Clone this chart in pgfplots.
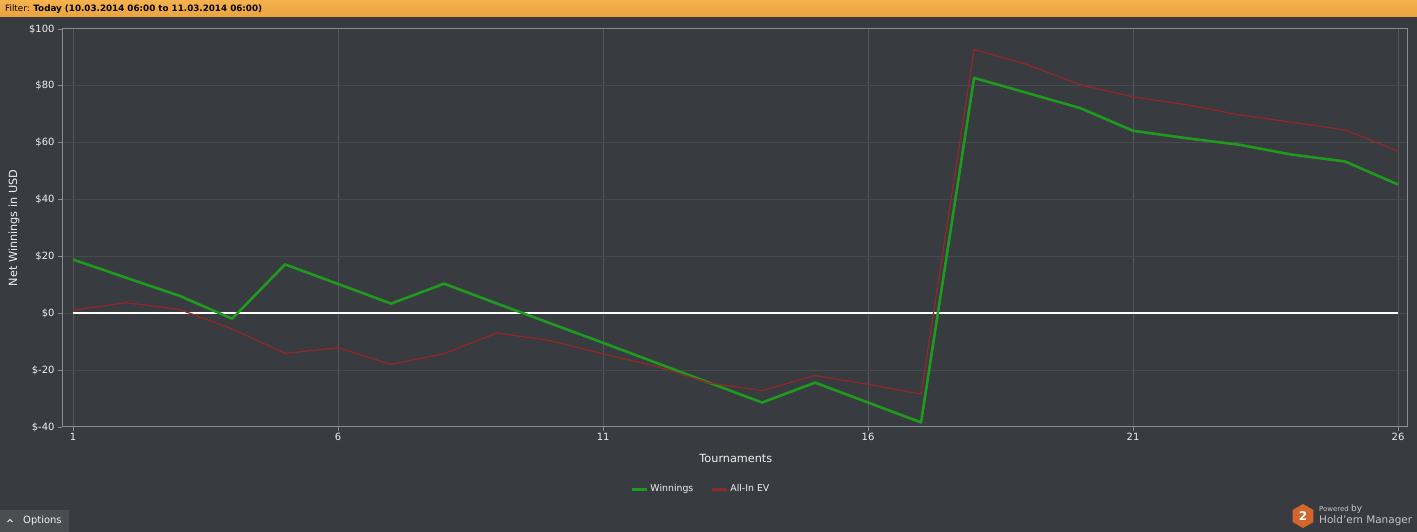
\documentclass[border=0pt]{standalone}
\usepackage{pgfplots}
\pgfplotsset{compat=1.18}
\usepackage{fontspec}
\setmainfont{DejaVu Sans}
\definecolor{bg}{HTML}{383B3F}
\definecolor{hdrtop}{HTML}{F6B24E}
\definecolor{hdrbot}{HTML}{E9A23F}
\definecolor{axgrey}{HTML}{8A8D90}
\definecolor{hgrid}{HTML}{474B4F}
\definecolor{vgrid}{HTML}{53575B}
\definecolor{txt}{HTML}{F0F0F0}
\definecolor{win}{HTML}{1F9A1F}
\definecolor{ev}{HTML}{8E2A2C}
\definecolor{optbg}{HTML}{4B4E51}
\definecolor{logo}{HTML}{D4652C}
\definecolor{logotxt}{HTML}{C4C6C8}
\pgfplotstableread{
x y
1 18.9
2 12.5
3 6.2
4 -1.9
5 17.2
6 10.3
7 3.4
8 10.4
9 3.4
10 -3.5
11 -10.4
12 -17.4
13 -24.4
14 -31.4
15 -24.4
16 -31.4
17 -38.4
18 82.8
19 77.5
20 72.2
21 64.2
22 61.6
23 59.3
24 55.8
25 53.4
26 45.3
}\winnings
\pgfplotstableread{
x y
1 1.1
2 3.7
3 1.4
4 -5.5
5 -14.1
6 -12.1
7 -18.0
8 -14.2
9 -6.9
10 -9.6
11 -14.3
12 -18.6
13 -24.5
14 -27.2
15 -21.9
16 -25.0
17 -28.4
18 92.8
19 87.5
20 80.4
21 76.1
22 73.4
23 69.8
24 67.2
25 64.5
26 57.0
}\allinev
\begin{document}
\begin{tikzpicture}[x=1bp,y=1bp]
\fill[bg] (0,0) rectangle (1417,532);
\shade[top color=hdrtop, bottom color=hdrbot] (0,515) rectangle (1417,532);
\node[anchor=base west, inner sep=0, text=black, font=\fontsize{8.8}{11}\selectfont] at (5,520) {Filter: \textbf{Today (10.03.2014 06:00 to 11.03.2014 06:00)}};
% options button
\fill[optbg] (0,0) rectangle (69,22);
\draw[txt, line width=1bp] (7.5,10) -- (10,12.5) -- (12.5,10);
\node[anchor=west, inner sep=0, text=txt, font=\fontsize{10}{12}\selectfont] at (23,11) {Options};
% logo
\fill[logo] ([shift={(30:12)}]1303,16) -- ([shift={(90:12)}]1303,16) -- ([shift={(150:12)}]1303,16) -- ([shift={(210:12)}]1303,16) -- ([shift={(270:12)}]1303,16) -- ([shift={(330:12)}]1303,16) -- cycle;
\node[text=white, font=\fontsize{12}{12}\selectfont\bfseries, inner sep=0] at (1303,16) {2};
\node[anchor=base west, inner sep=0, text=logotxt, font=\fontsize{7}{8}\selectfont] at (1319,20) {Powered \fontsize{9}{9}\selectfont by};
\node[anchor=base west, inner sep=0, text=logotxt, font=\fontsize{10.5}{12}\selectfont] at (1319,8) {Hold'em Manager};
\begin{axis}[
  at={(62bp,105bp)}, anchor=south west, scale only axis,
  width=1345bp, height=398bp,
  xmin=0.79, xmax=26.17, ymin=-40, ymax=100,
  xtick={1,6,11,16,21,26},
  ytick={-40,-20,0,20,40,60,80,100},
  yticklabels={\$-40,\$-20,\$0,\$20,\$40,\$60,\$80,\$100},
  /pgf/number format/assume math mode=true,
  xtick pos=lower, ytick pos=left,
  tick align=outside, major tick length=4bp,
  tick style={draw=axgrey, line width=0.8bp},
  axis line style={draw=axgrey, line width=1bp},
  grid=major,
  x grid style={draw=vgrid, line width=0.8bp},
  y grid style={draw=hgrid, line width=1bp},
  ticklabel style={text=txt, font=\fontsize{10}{12}\selectfont},
  xticklabel style={yshift=1bp},
  xlabel={Tournaments}, ylabel={Net Winnings in USD},
  label style={text=txt, font=\fontsize{11.3}{13}\selectfont},
  xlabel style={at={(axis description cs:0.501,-0.080)}, anchor=center},
  ylabel style={at={(axis description cs:-0.0357,0.5)}, anchor=center},
  legend style={at={(axis description cs:0.475,-0.156)}, anchor=center,
    legend columns=2, draw=none, fill=none, text=txt,
    font=\fontsize{9.4}{11}\selectfont,
    /tikz/every even column/.append style={column sep=15bp}},
  legend image code/.code={\draw[#1, line width=3bp] (0bp,0bp) -- (15bp,0bp);},
]
\addplot[white, line width=2.3bp, forget plot] coordinates {(1,0) (26,0)};
\addplot[win, line width=2.6bp, line join=round] table[x=x, y=y] {\winnings};
\addlegendentry{Winnings}
\addplot[ev, line width=1.3bp, line join=round] table[x=x, y=y] {\allinev};
\addlegendentry{All-In EV}
\end{axis}
\end{tikzpicture}
\end{document}
